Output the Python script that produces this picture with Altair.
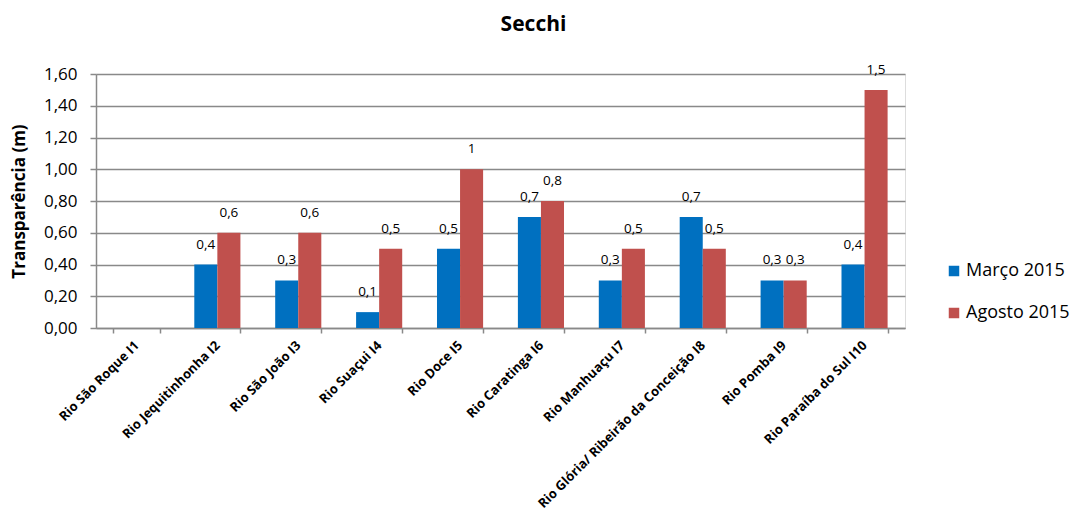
import altair as alt
import pandas as pd

# Sampling sites along the x axis
sites = [
    "Rio São Roque I1",
    "Rio Jequitinhonha  I2",
    "Rio São João  I3",
    "Rio Suaçui I4",
    "Rio Doce I5",
    "Rio Caratinga I6",
    "Rio Manhuaçu I7",
    "Rio Glória/ Ribeirão da Conceição I8",
    "Rio Pomba I9",
    "Rio Paraíba do Sul I10",
]

# Secchi disk transparency (m) per campaign; None = not measured
marco_2015 = [None, 0.4, 0.3, 0.1, 0.5, 0.7, 0.3, 0.7, 0.3, 0.4]
agosto_2015 = [None, 0.6, 0.6, 0.5, 1.0, 0.8, 0.5, 0.5, 0.3, 1.5]

series_names = ["Março 2015", "Agosto 2015"]
series_colors = ["#0070C0", "#C0504D"]
y_ticks = [0.0, 0.2, 0.4, 0.6, 0.8, 1.0, 1.2, 1.4, 1.6]

rows = []
for name, values in zip(series_names, [marco_2015, agosto_2015]):
    for site, v in zip(sites, values):
        if v is not None:
            rows.append({"site": site, "serie": name, "valor": v})
df = pd.DataFrame(rows)

FONT = "Open Sans"
GRID = "#898989"

x_enc = alt.X(
    "site:N",
    sort=sites,
    scale=alt.Scale(domain=sites, paddingInner=0.43, paddingOuter=0.215),
    axis=alt.Axis(
        title=None,
        labelAngle=-45,
        labelAlign="right",
        labelBaseline="middle",
        labelFont=FONT,
        labelFontWeight="bold",
        labelFontSize=13,
        labelColor="#000000",
        labelPadding=10,
        labelLimit=400,
        tickBand="extent",
        tickColor=GRID,
        tickSize=5,
        tickWidth=1.5,
        domainColor=GRID,
        domainWidth=1.5,
        grid=False,
    ),
)

y_enc = alt.Y(
    "valor:Q",
    scale=alt.Scale(domain=[0, 1.6], nice=False),
    axis=alt.Axis(
        title="Transparência (m)",
        titleFont=FONT,
        titleFontWeight="bold",
        titleFontSize=17,
        titleColor="#000000",
        titlePadding=15,
        values=y_ticks,
        format=".2f",
        labelFont=FONT,
        labelFontSize=17,
        labelColor="#000000",
        labelPadding=13,
        tickColor=GRID,
        tickSize=6,
        tickWidth=1.5,
        domainColor=GRID,
        domainWidth=1.5,
        gridColor=GRID,
        gridWidth=1.5,
    ),
)

color_enc = alt.Color(
    "serie:N",
    sort=series_names,
    scale=alt.Scale(domain=series_names, range=series_colors),
    legend=alt.Legend(
        title=None,
        orient="none",
        legendX=849,
        legendY=188,
        symbolType="square",
        symbolSize=110,
        symbolStrokeWidth=0,
        labelFont=FONT,
        labelFontSize=18,
        labelColor="#000000",
        labelOffset=3,
        rowPadding=24,
    ),
)

offset_enc = alt.XOffset("serie:N", sort=series_names, scale=alt.Scale(domain=series_names))

base = alt.Chart(df).encode(x=x_enc, y=y_enc, xOffset=offset_enc)

bars = base.mark_bar().encode(color=color_enc)

labels = base.mark_text(
    baseline="middle",
    dy=-20,
    font=FONT,
    fontSize=13.5,
    color="#000000",
).encode(text=alt.Text("valor:Q", format=".1~f"))

chart = (
    alt.layer(bars, labels)
    .properties(
        width=809,
        height=254,
        title=alt.TitleParams(
            "Secchi",
            font=FONT,
            fontSize=21,
            fontWeight="bold",
            color="#000000",
            anchor="middle",
            dx=33,
            offset=28,
        ),
        autosize=alt.AutoSizeParams(type="none"),
        padding={"left": 96, "top": 74, "right": 168, "bottom": 187},
    )
    .configure_view(stroke=None)
    .configure(
        locale={
            "number": {
                "decimal": ",",
                "thousands": ".",
                "grouping": [3],
                "currency": ["R$", ""],
            }
        }
    )
)

chart.save("out.html", embed_options={"renderer": "svg", "actions": False})
